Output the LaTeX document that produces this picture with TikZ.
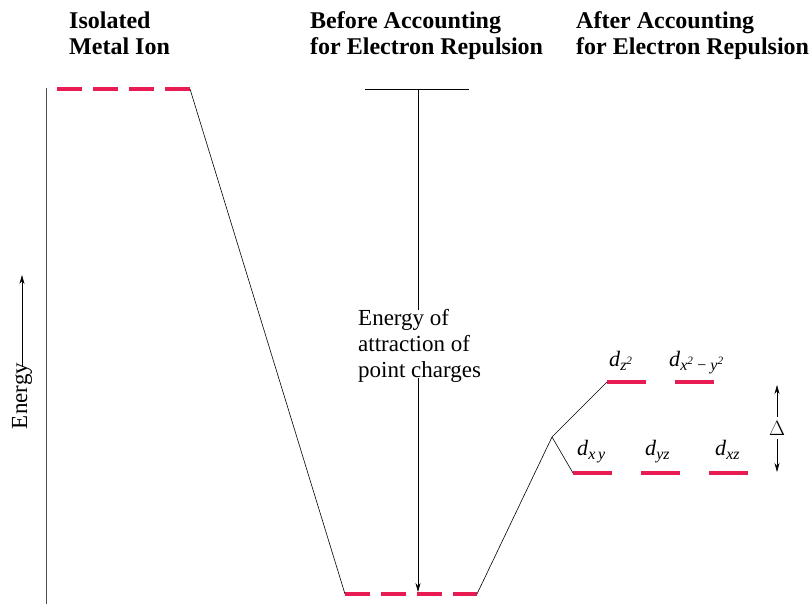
\documentclass[tikz,border=0pt]{standalone}
\usepackage{fontspec}
\setmainfont{Liberation Serif}
\usetikzlibrary{arrows.meta}
\definecolor{levelred}{RGB}{232,28,82}
\newcommand{\dorb}[1]{\textit{d}\raisebox{-4.5pt}{\fontsize{16}{16}\selectfont\itshape #1}}

\begin{document}
\begin{tikzpicture}[x=1pt,y=-1pt,
  level/.style={levelred,line width=4pt},
  dashlevel/.style={level,dash pattern=on 25pt off 11pt},
  head/.style={anchor=base west,align=left,inner sep=0pt,font=\bfseries\fontsize{24}{26}\selectfont},
  orb/.style={anchor=base west,inner sep=0pt,font=\fontsize{22}{24}\selectfont},
  >={Stealth[length=9pt,width=5pt]}]
  \useasboundingbox (0,0) rectangle (809,604);
  % headings
  \node[head] (hiso) at (69,55) {Isolated\\Metal Ion};
  \node[head] (hbef) at (310,55) {Before Accounting\\for Electron Repulsion};
  \node[head] (haft) at (576,55) {After Accounting\\for Electron Repulsion};
  % energy axis
  \coordinate (a1) at (46,88); \coordinate (a2) at (46,604);
  \draw[black!70,line width=0.6pt] (a1)--(a2);
  \node[rotate=90,inner sep=0pt,font=\fontsize{23}{26}\selectfont] (energy) at (22,396) {Energy};
  \coordinate (etip) at (22,275);
  \draw[->,line width=0.6pt] ([yshift=-4pt]energy.east)--(etip);
  % levels
  \coordinate (i1) at (57,89); \coordinate (i2) at (190,89);
  \coordinate (b1) at (345,594); \coordinate (b2) at (477,594);
  \coordinate (p1) at (365,89); \coordinate (p2) at (469,89);
  \coordinate (pm) at (418,89); \coordinate (bm) at (418,592);
  \coordinate (br) at (552,437);
  \draw[dashlevel] (i1)--(i2);
  \draw[dashlevel] (b1)--(b2);
  \draw[line width=0.8pt] (p1)--(p2);
  \foreach \n/\x/\y in {zz/607/382,xy2/675/382,xy/573/473,yz/641/473,xz/709/473}
    \draw[level] (\x,\y) coordinate (\n) -- ++(39,0) coordinate (\n e);
  % correlation lines
  \draw[line width=0.6pt] (i2)--(b1);
  \draw[line width=0.6pt] (b2)--(br)--(zz);
  \draw[line width=0.6pt] (br)--(xy);
  % attraction arrow
  \node[anchor=base west,align=left,inner sep=0pt,font=\fontsize{23}{26}\selectfont] (attr) at (358,377)
    {Energy of\\attraction of\\point charges};
  \draw[line width=0.6pt] (pm)--([yshift=-1pt]attr.north-|pm);
  \draw[->,line width=0.6pt] ([yshift=4pt]attr.south-|pm)--(bm);
  % orbital labels
  \node[orb] (lzz) at (609,366) {\dorb{z\textsuperscript{2}}};
  \node[orb] (lxy2) at (669,366) {\dorb{x\textsuperscript{2}\ \upshape−\ \itshape y\textsuperscript{2}}};
  \node[orb] (lxy) at (577,455) {\dorb{x\,y}};
  \node[orb] (lyz) at (645,455) {\dorb{yz}};
  \node[orb] (lxz) at (715,455) {\dorb{xz}};
  % splitting
  \node[inner sep=1pt,font=\fontsize{22}{24}\selectfont] (delta) at (777,428) {$\Delta$};
  \coordinate (dtop) at (777,385); \coordinate (dbot) at (777,472);
  \draw[->,line width=0.6pt] ([yshift=3pt]delta.north)--(dtop);
  \draw[->,line width=0.6pt] ([yshift=-3pt]delta.south)--(dbot);
\end{tikzpicture}
\end{document}
